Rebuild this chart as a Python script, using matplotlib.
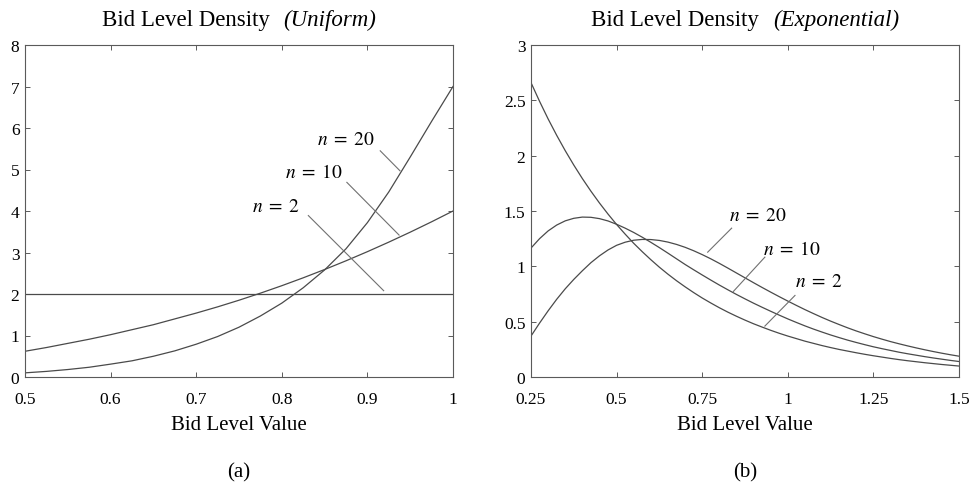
import matplotlib
matplotlib.use("Agg")
import matplotlib.pyplot as plt
from matplotlib.offsetbox import TextArea, HPacker, AnchoredOffsetbox

plt.rcParams['font.family'] = ['Liberation Serif', 'DejaVu Serif']
plt.rcParams['mathtext.fontset'] = 'stix'

# ---------------- Data: panel (a) Uniform ----------------
u_x = [0.500, 0.525, 0.550, 0.575, 0.600, 0.625, 0.650, 0.675, 0.700, 0.725,
       0.750, 0.775, 0.800, 0.825, 0.850, 0.875, 0.900, 0.925, 0.950, 0.975, 1.000]
u_n2 = [2.0] * 21
u_n10 = [0.62, 0.71, 0.81, 0.91, 1.02, 1.14, 1.26, 1.40, 1.54, 1.69,
         1.85, 2.02, 2.20, 2.39, 2.59, 2.80, 3.02, 3.25, 3.49, 3.74, 4.00]
u_n20 = [0.10, 0.135, 0.18, 0.235, 0.31, 0.39, 0.50, 0.63, 0.79, 0.975,
         1.20, 1.47, 1.78, 2.15, 2.58, 3.09, 3.72, 4.46, 5.30, 6.16, 7.00]

# ---------------- Data: panel (b) Exponential ----------------
e_x = [0.250, 0.275, 0.300, 0.325, 0.350, 0.375, 0.400, 0.425, 0.450, 0.475,
       0.500, 0.525, 0.550, 0.575, 0.600, 0.625, 0.650, 0.675, 0.700, 0.725,
       0.750, 0.775, 0.800, 0.825, 0.850, 0.875, 0.900, 0.925, 0.950, 0.975,
       1.000, 1.025, 1.050, 1.075, 1.100, 1.125, 1.150, 1.175, 1.200, 1.225,
       1.250, 1.275, 1.300, 1.325, 1.350, 1.375, 1.400, 1.425, 1.450, 1.475, 1.500]
e_n2 = [2.660, 2.491, 2.332, 2.184, 2.045, 1.915, 1.793, 1.679, 1.572, 1.472,
        1.378, 1.291, 1.208, 1.132, 1.060, 0.992, 0.929, 0.870, 0.815, 0.763,
        0.714, 0.669, 0.626, 0.586, 0.549, 0.514, 0.481, 0.451, 0.422, 0.395,
        0.370, 0.347, 0.324, 0.304, 0.284, 0.266, 0.249, 0.234, 0.219, 0.205,
        0.192, 0.180, 0.168, 0.157, 0.147, 0.138, 0.129, 0.121, 0.113, 0.106, 0.099]
e_n10 = [1.165, 1.250, 1.320, 1.373, 1.411, 1.434, 1.445, 1.443, 1.431, 1.410,
         1.380, 1.345, 1.306, 1.263, 1.217, 1.169, 1.119, 1.068, 1.017, 0.969,
         0.922, 0.876, 0.831, 0.788, 0.746, 0.706, 0.667, 0.630, 0.594, 0.559,
         0.525, 0.493, 0.462, 0.433, 0.406, 0.380, 0.356, 0.333, 0.312, 0.292,
         0.273, 0.256, 0.240, 0.224, 0.210, 0.197, 0.184, 0.172, 0.161, 0.150, 0.140]
e_n20 = [0.370, 0.487, 0.598, 0.702, 0.797, 0.882, 0.960, 1.033, 1.095, 1.148,
         1.190, 1.218, 1.236, 1.243, 1.242, 1.234, 1.219, 1.198, 1.172, 1.141,
         1.106, 1.068, 1.027, 0.984, 0.940, 0.896, 0.852, 0.809, 0.767, 0.726,
         0.686, 0.647, 0.609, 0.573, 0.538, 0.505, 0.474, 0.444, 0.416, 0.390,
         0.365, 0.342, 0.320, 0.300, 0.281, 0.263, 0.246, 0.230, 0.215, 0.201, 0.188]

u_xticks = [0.5, 0.6, 0.7, 0.8, 0.9, 1.0]
u_xticklabels = ['0.5', '0.6', '0.7', '0.8', '0.9', '1']
u_yticks = [0, 1, 2, 3, 4, 5, 6, 7, 8]
u_yticklabels = ['0', '1', '2', '3', '4', '5', '6', '7', '8']
e_xticks = [0.25, 0.5, 0.75, 1.0, 1.25, 1.5]
e_xticklabels = ['0.25', '0.5', '0.75', '1', '1.25', '1.5']
e_yticks = [0, 0.5, 1, 1.5, 2, 2.5, 3]
e_yticklabels = ['0', '0.5', '1', '1.5', '2', '2.5', '3']

LINE = '#4a4a4a'
PTR = '#707070'
SPINE = '#5a5a5a'

fig = plt.figure(figsize=(9.71, 4.85), dpi=100)
ax1 = fig.add_axes([25/971, 1-378/485, 428/971, 332/485])
ax2 = fig.add_axes([531/971, 1-378/485, 428/971, 332/485])


def style(ax, xt, xtl, yt, ytl, xlim, ylim):
    ax.set_xlim(*xlim)
    ax.set_ylim(*ylim)
    ax.set_xticks(xt)
    ax.set_xticklabels(xtl)
    ax.set_yticks(yt)
    ax.set_yticklabels(ytl)
    ax.tick_params(direction='in', length=3.5, width=0.7, color=SPINE,
                   top=True, right=True, labelsize=12.5)
    ax.tick_params(axis='x', pad=10)
    ax.tick_params(axis='y', pad=4)
    for s in ax.spines.values():
        s.set_color(SPINE)
        s.set_linewidth(0.8)
    ax.set_xlabel('Bid Level Value', fontsize=15, labelpad=6)


def title(ax, main, ital):
    t1 = TextArea(main, textprops=dict(fontsize=16.5))
    t2 = TextArea(ital, textprops=dict(fontsize=16.5, style='italic'))
    box = HPacker(children=[t1, t2], align='baseline', pad=0, sep=10)
    ab = AnchoredOffsetbox(loc='lower center', child=box, pad=0, borderpad=0,
                           frameon=False, bbox_to_anchor=(0.5, 1.045),
                           bbox_transform=ax.transAxes)
    ax.add_artist(ab)


def lab(ax, x, y, n):
    ax.text(x, y, r'$n\;=\;%s$' % n, fontsize=14, ha='center', va='center')


# Panel (a)
ax1.plot(u_x, u_n2, color=LINE, lw=0.9)
ax1.plot(u_x, u_n10, color=LINE, lw=0.9)
ax1.plot(u_x, u_n20, color=LINE, lw=0.9)
style(ax1, u_xticks, u_xticklabels, u_yticks, u_yticklabels, (0.5, 1.0), (0, 8))
title(ax1, 'Bid Level Density', '(Uniform)')
lab(ax1, 0.875, 5.73, '20')
ax1.plot([0.915, 0.938], [5.45, 4.97], color=PTR, lw=0.8)
lab(ax1, 0.838, 4.94, '10')
ax1.plot([0.876, 0.937], [4.69, 3.42], color=PTR, lw=0.8)
lab(ax1, 0.793, 4.12, '2')
ax1.plot([0.831, 0.919], [3.89, 2.08], color=PTR, lw=0.8)
ax1.text(0.5, -0.285, '(a)', transform=ax1.transAxes, fontsize=15,
         ha='center', va='center')

# Panel (b)
ax2.plot(e_x, e_n2, color=LINE, lw=0.9)
ax2.plot(e_x, e_n10, color=LINE, lw=0.9)
ax2.plot(e_x, e_n20, color=LINE, lw=0.9)
style(ax2, e_xticks, e_xticklabels, e_yticks, e_yticklabels, (0.25, 1.5), (0, 3))
title(ax2, 'Bid Level Density', '(Exponential)')
lab(ax2, 0.913, 1.456, '20')
ax2.plot([0.836, 0.766], [1.345, 1.128], color=PTR, lw=0.8)
lab(ax2, 1.012, 1.16, '10')
ax2.plot([0.933, 0.841], [1.083, 0.773], color=PTR, lw=0.8)
lab(ax2, 1.091, 0.863, '2')
ax2.plot([1.021, 0.933], [0.737, 0.46], color=PTR, lw=0.8)
ax2.text(0.5, -0.285, '(b)', transform=ax2.transAxes, fontsize=15,
         ha='center', va='center')

fig.savefig('out.png', dpi=100)
